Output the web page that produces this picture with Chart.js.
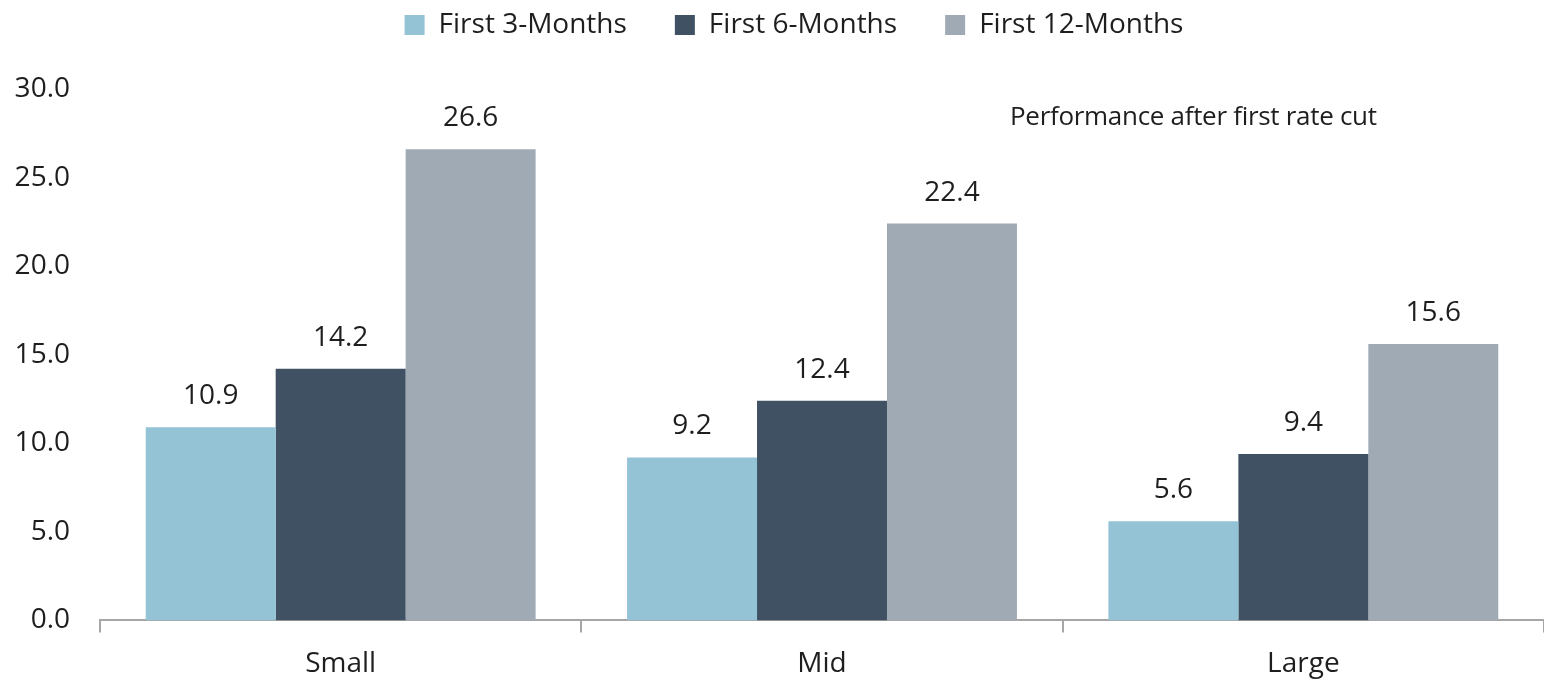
<!DOCTYPE html>
<html>
<head>
<meta charset="utf-8">
<script src="https://cdn.jsdelivr.net/npm/chart.js@4.4.1/dist/chart.umd.min.js"></script>
<style>
html,body{margin:0;padding:0;background:#fff;}
#wrap{width:1544px;height:680px;position:relative;}
</style>
</head>
<body>
<div id="wrap"><canvas id="c" width="1544" height="680"></canvas></div>
<script>
const categories = ["Small", "Mid", "Large"];
const seriesNames = ["First 3-Months", "First 6-Months", "First 12-Months"];
const first3 = [10.9, 9.2, 5.6];
const first6 = [14.2, 12.4, 9.4];
const first12 = [26.6, 22.4, 15.6];
const yTicks = [0, 5, 10, 15, 20, 25, 30];
const annotationText = "Performance after first rate cut";

const colors = ["#95C3D6", "#405163", "#A0AAB4"];
const FONT = "'Open Sans', 'Noto Sans', sans-serif";

const legendMargin = {
  id: 'legendMargin',
  beforeInit(chart) {
    const orig = chart.legend.fit;
    chart.legend.fit = function () {
      orig.bind(chart.legend)();
      this.height += 40;
    };
  },
  afterLayout(chart) {
    chart.legend.left += 22;
    chart.legend.right += 22;
  }
};

const valueLabels = {
  id: 'valueLabels',
  afterDatasetsDraw(chart) {
    const ctx = chart.ctx;
    ctx.save();
    ctx.font = "28px " + FONT;
    ctx.fillStyle = "#1e1e1e";
    ctx.textAlign = "center";
    ctx.textBaseline = "middle";
    chart.data.datasets.forEach((ds, i) => {
      const meta = chart.getDatasetMeta(i);
      meta.data.forEach((bar, j) => {
        ctx.fillText(ds.data[j].toFixed(1), bar.x, bar.y - 31);
      });
    });
    ctx.font = "26px " + FONT;
    ctx.textAlign = "left";
    if ('letterSpacing' in ctx) ctx.letterSpacing = "-0.3px";
    ctx.fillText(annotationText, 1010, 118);
    ctx.restore();
  }
};

new Chart(document.getElementById('c'), {
  type: 'bar',
  data: {
    labels: categories,
    datasets: [
      { label: seriesNames[0], data: first3, backgroundColor: colors[0] },
      { label: seriesNames[1], data: first6, backgroundColor: colors[1] },
      { label: seriesNames[2], data: first12, backgroundColor: colors[2] }
    ]
  },
  options: {
    responsive: false,
    animation: false,
    devicePixelRatio: 1,
    layout: { padding: { left: 0, right: 0, top: -37, bottom: -16 } },
    datasets: { bar: { categoryPercentage: 0.81, barPercentage: 1.0, borderWidth: 0 } },
    plugins: {
      legend: {
        position: 'top',
        labels: {
          font: { family: FONT, size: 28 },
          color: "#1e1e1e",
          boxWidth: 20,
          boxHeight: 20,
          padding: 48
        }
      },
      tooltip: { enabled: false }
    },
    scales: {
      x: {
        offset: true,
        grid: {
          display: true,
          offset: true,
          drawOnChartArea: false,
          drawTicks: true,
          tickLength: 12,
          color: "#A6A6A6",
          lineWidth: 2
        },
        border: { display: true, color: "#A6A6A6", width: 2 },
        ticks: {
          font: { family: FONT, size: 28 },
          color: "#1e1e1e",
          padding: 15
        }
      },
      y: {
        min: 0,
        max: 30,
        afterBuildTicks(axis) { axis.ticks = yTicks.map(v => ({ value: v })); },
        afterFit(axis) { axis.width = 100; },
        grid: { display: false, drawTicks: false },
        border: { display: false },
        ticks: {
          font: { family: FONT, size: 28 },
          color: "#1e1e1e",
          padding: 30,
          callback: (v) => Number(v).toFixed(1)
        }
      }
    }
  },
  plugins: [legendMargin, valueLabels]
});
</script>
</body>
</html>
